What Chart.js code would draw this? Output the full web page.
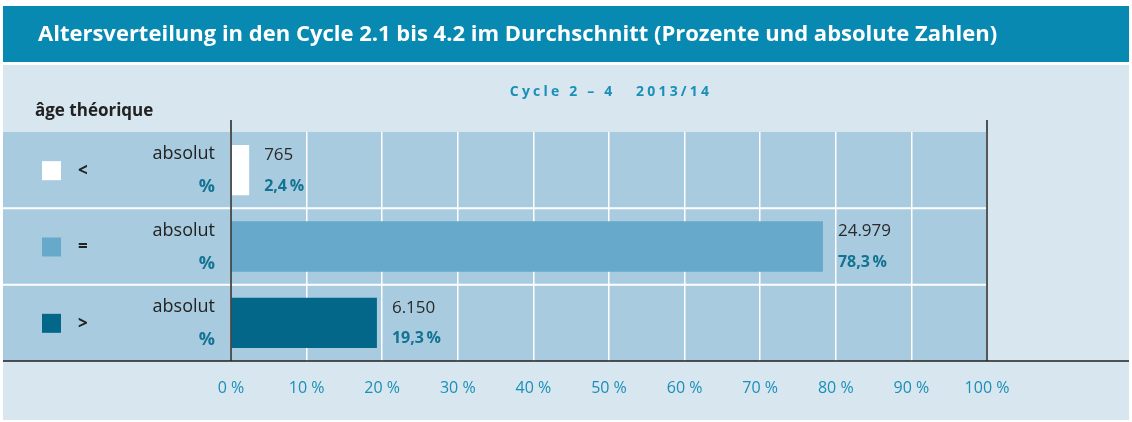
<!DOCTYPE html>
<html>
<head>
<meta charset="utf-8">
<script src="https://cdn.jsdelivr.net/npm/chart.js@4"></script>
<style>
  body { margin: 0; background: #ffffff; }
  #wrap { width: 1132px; height: 422px; }
</style>
</head>
<body>
<div id="wrap"><canvas id="chart" width="1132" height="422"></canvas></div>
<script>
// Daten
const categories = ['<', '=', '>'];
const absoluteValues = [765, 24979, 6150];
const percentValues = [2.4, 78.3, 19.3];
const tickLabels = ['0 %', '10 %', '20 %', '30 %', '40 %', '50 %', '60 %', '70 %', '80 %', '90 %', '100 %'];
const barColors = ['#ffffff', '#67a9cb', '#03678a'];

const titleText = 'Altersverteilung in den Cycle 2.1 bis 4.2 im Durchschnitt (Prozente und absolute Zahlen)';
const subtitleText = 'Cycle 2 – 4   2013/14';
const rowHeader = 'âge théorique';

const FONT = '"Open Sans", "Noto Sans", sans-serif';
const TEAL = '#0789b1';
const PCT = '#137392';

function fmtAbs(n) {
    return String(n).replace(/\B(?=(\d{3})+(?!\d))/g, '.');
}
function fmtPct(p) {
    return p.toFixed(1).replace('.', ',') + '\u2009%';
}

const framePlugin = {
    id: 'frame',
    beforeDraw(chart) {
        const { ctx, chartArea, scales } = chart;
        const W = chart.width;
        ctx.save();
        // Hintergrund
        ctx.fillStyle = '#d7e6ef';
        ctx.fillRect(3, 65, W - 6, 355);
        // Titelbalken
        ctx.fillStyle = TEAL;
        ctx.fillRect(3, 6, W - 6, 56);
        ctx.fillStyle = '#ffffff';
        ctx.font = 'bold 22px ' + FONT;
        ctx.textBaseline = 'middle';
        ctx.fillText(titleText, 38, 35);
        // Untertitel
        ctx.fillStyle = '#1a8fb8';
        ctx.font = 'bold 14px ' + FONT;
        ctx.textAlign = 'center';
        ctx.letterSpacing = '3.2px';
        ctx.fillText(subtitleText, 611, 92);
        ctx.letterSpacing = '0px';
        // Kopf links
        ctx.textAlign = 'left';
        ctx.fillStyle = '#222';
        ctx.font = 'bold 17px ' + FONT;
        ctx.fillText(rowHeader, 35, 111);
        // Band
        ctx.fillStyle = '#a9cbdf';
        ctx.fillRect(3, chartArea.top, chartArea.right - 3, chartArea.bottom - chartArea.top);
        // Zeilentrenner
        const y = scales.y;
        ctx.strokeStyle = '#ffffff';
        ctx.lineWidth = 2;
        for (let i = 1; i < categories.length; i++) {
            const yy = (y.getPixelForValue(i - 1) + y.getPixelForValue(i)) / 2;
            ctx.beginPath();
            ctx.moveTo(3, yy);
            ctx.lineTo(chartArea.right, yy);
            ctx.stroke();
        }
        // Linke Beschriftung
        categories.forEach((c, i) => {
            const cy = y.getPixelForValue(i);
            ctx.fillStyle = barColors[i];
            ctx.fillRect(42, cy - 9, 19, 19);
            ctx.fillStyle = '#222';
            ctx.font = 'bold 17px ' + FONT;
            ctx.textAlign = 'left';
            ctx.fillText(c, 78, cy + 1);
            ctx.textAlign = 'right';
            ctx.font = '18px ' + FONT;
            ctx.fillText('absolut', 215, cy - 16);
            ctx.fillStyle = PCT;
            ctx.font = 'bold 18px ' + FONT;
            ctx.fillText('%', 215, cy + 17);
        });
        ctx.restore();
    },
    afterDatasetsDraw(chart) {
        const { ctx, chartArea, scales } = chart;
        const meta = chart.getDatasetMeta(0);
        ctx.save();
        ctx.textBaseline = 'middle';
        ctx.textAlign = 'left';
        meta.data.forEach((bar, i) => {
            ctx.fillStyle = '#2a2a2a';
            ctx.font = '17px ' + FONT;
            ctx.fillText(fmtAbs(absoluteValues[i]), bar.x + 15, bar.y - 15);
            ctx.fillStyle = PCT;
            ctx.font = 'bold 16px ' + FONT;
            ctx.fillText(fmtPct(percentValues[i]), bar.x + 15, bar.y + 16);
        });
        // Achsenlinien
        ctx.strokeStyle = '#222';
        ctx.lineWidth = 1.5;
        const x0 = scales.x.getPixelForValue(0);
        const x1 = scales.x.getPixelForValue(100);
        ctx.beginPath();
        ctx.moveTo(x0, 120); ctx.lineTo(x0, chartArea.bottom);
        ctx.moveTo(x1, 120); ctx.lineTo(x1, chartArea.bottom);
        ctx.moveTo(3, chartArea.bottom); ctx.lineTo(chart.width - 3, chartArea.bottom);
        ctx.stroke();
        ctx.restore();
    }
};

new Chart(document.getElementById('chart'), {
    type: 'bar',
    data: {
        labels: categories,
        datasets: [{
            data: percentValues,
            backgroundColor: barColors,
            borderWidth: 0,
            barPercentage: 0.66,
            categoryPercentage: 1
        }]
    },
    options: {
        indexAxis: 'y',
        responsive: false,
        animation: false,
        layout: { padding: { left: 231, right: 145, top: 132, bottom: 0 } },
        plugins: { legend: { display: false }, tooltip: { enabled: false } },
        scales: {
            y: { display: false },
            x: {
                min: 0,
                max: 100,
                ticks: {
                    stepSize: 10,
                    padding: 18,
                    color: '#1a8fb8',
                    font: { family: FONT, size: 16 },
                    callback: (v, i) => tickLabels[i]
                },
                grid: { color: '#ffffff', lineWidth: 1.5, drawTicks: false },
                border: { display: false },
                afterFit: (s) => { s.height = 61; }
            }
        }
    },
    plugins: [framePlugin]
});
</script>
</body>
</html>
